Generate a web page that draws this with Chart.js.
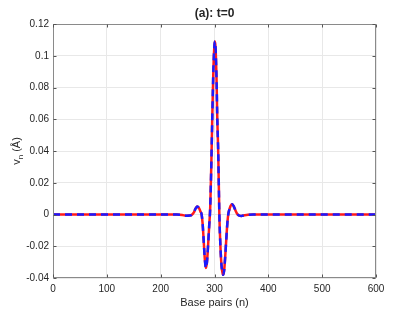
<!DOCTYPE html>
<html>
<head>
<meta charset="utf-8">
<script src="https://cdn.jsdelivr.net/npm/chart.js@4"></script>
<style>
    html, body { margin: 0; padding: 0; background: #fff; }
</style>
</head>
<body>
<canvas id="chart" width="415" height="312"></canvas>
<script>
// base pair index n and displacement v_n (Å) at t=0
const basePairs = [0, 200, 230, 240, 248, 254, 258, 262, 265, 268, 271, 274, 276, 278, 280, 282, 284,
    286, 288, 290, 292, 294, 296, 298, 300, 301, 302, 304, 305, 307, 309, 311, 313, 315, 316,
    318, 320, 322, 324, 326, 328, 330, 333, 336, 339, 342, 346, 350, 356, 362, 372, 600];
const displacement = [0, 0, 0, -0.0003, -0.0008, -0.0007, -0.0002, 0.0015, 0.0038, 0.005, 0.0042, 0.0018, 0.0002, -0.006, -0.017, -0.028, -0.0337,
    -0.030, -0.020, -0.008, 0.004, 0.030, 0.063, 0.092, 0.107, 0.109, 0.105, 0.082, 0.063, 0.038, 0.000, -0.020, -0.032, -0.037, -0.038,
    -0.035, -0.026, -0.015, -0.005, 0.001, 0.0035, 0.0055, 0.0065, 0.005, 0.0025, 0.0005, -0.0007, -0.0009, -0.0005, -0.0002, 0, 0];

const xTicks = [0, 100, 200, 300, 400, 500, 600];
const yTicks = [-0.04, -0.02, 0, 0.02, 0.04, 0.06, 0.08, 0.1, 0.12];

const titleText = '(a): t=0';
const xTitle = 'Base pairs (n)';

const fontFam = '"Liberation Sans", Arial, Helvetica, sans-serif';
const textColor = '#262626';

const puntos = basePairs.map((n, i) => ({ x: n, y: displacement[i] }));

// caja, marcas hacia dentro y textos al estilo MATLAB
const marco = {
    id: 'marco',
    afterDraw(chart) {
        const { ctx, chartArea: a, scales: { x, y } } = chart;
        const L = Math.round(a.left) + 0.5, R = Math.round(a.right) - 0.5;
        const T = Math.round(a.top) + 0.5, B = Math.round(a.bottom) - 0.5;
        ctx.save();
        ctx.strokeStyle = '#8a8a8a';
        ctx.lineWidth = 1;
        ctx.strokeRect(L, T, R - L, B - T);

        ctx.strokeStyle = '#555';
        ctx.beginPath();
        xTicks.forEach(v => {
            const px = Math.round(x.getPixelForValue(v)) + 0.5;
            ctx.moveTo(px, B); ctx.lineTo(px, B - 3);
            ctx.moveTo(px, T); ctx.lineTo(px, T + 3);
        });
        yTicks.forEach(v => {
            const py = Math.round(y.getPixelForValue(v)) + 0.5;
            ctx.moveTo(L, py); ctx.lineTo(L + 3, py);
            ctx.moveTo(R, py); ctx.lineTo(R - 3, py);
        });
        ctx.stroke();

        const cx = (a.left + a.right) / 2;
        const cy = (a.top + a.bottom) / 2;
        ctx.fillStyle = textColor;
        ctx.textAlign = 'center';
        ctx.textBaseline = 'middle';

        ctx.font = 'bold 12px ' + fontFam;
        ctx.fillText(titleText, cx, 14);

        ctx.font = '11px ' + fontFam;
        ctx.fillText(xTitle, cx, 303);

        // etiqueta del eje y con subíndice
        ctx.translate(16, cy);
        ctx.rotate(-Math.PI / 2);
        ctx.textAlign = 'left';
        ctx.textBaseline = 'alphabetic';
        ctx.font = '11px ' + fontFam;
        const wV = ctx.measureText('v').width;
        ctx.font = '8px ' + fontFam;
        const wN = ctx.measureText('n').width;
        ctx.font = '11px ' + fontFam;
        const wRest = ctx.measureText(' (Å)').width;
        let x0 = -(wV + wN + wRest) / 2;
        ctx.fillText('v', x0, 4);
        ctx.font = '8px ' + fontFam;
        ctx.fillText('n', x0 + wV, 7);
        ctx.font = '11px ' + fontFam;
        ctx.fillText(' (Å)', x0 + wV + wN, 4);
        ctx.restore();
    }
};

new Chart(document.getElementById('chart'), {
    type: 'line',
    data: {
        datasets: [
            {
                data: puntos,
                borderColor: '#1a1aff',
                borderWidth: 2.5,
                borderDash: [7, 5],
                pointRadius: 0,
                cubicInterpolationMode: 'monotone',
                order: 0
            },
            {
                data: puntos,
                borderColor: '#ff1a1a',
                borderWidth: 2.5,
                pointRadius: 0,
                cubicInterpolationMode: 'monotone',
                order: 1
            }
        ]
    },
    options: {
        responsive: false,
        animation: false,
        layout: { padding: { top: 24, right: 39, left: 0, bottom: 0 } },
        plugins: { legend: { display: false }, tooltip: { enabled: false }, title: { display: false } },
        scales: {
            x: {
                type: 'linear',
                min: 0,
                max: 600,
                afterBuildTicks: s => { s.ticks = xTicks.map(v => ({ value: v })); },
                afterFit: s => { s.height = 34; },
                grid: { color: '#e8e8e8', drawTicks: false },
                border: { display: false },
                ticks: {
                    padding: 5,
                    maxRotation: 0,
                    color: textColor,
                    font: { family: fontFam, size: 10 },
                    callback: v => String(v)
                }
            },
            y: {
                type: 'linear',
                min: -0.04,
                max: 0.12,
                afterBuildTicks: s => { s.ticks = yTicks.map(v => ({ value: v })); },
                afterFit: s => { s.width = 53; },
                grid: { color: '#e8e8e8', drawTicks: false },
                border: { display: false },
                ticks: {
                    padding: 4,
                    color: textColor,
                    font: { family: fontFam, size: 10 },
                    callback: v => String(Number(v.toFixed(2)))
                }
            }
        }
    },
    plugins: [marco]
});
</script>
</body>
</html>
